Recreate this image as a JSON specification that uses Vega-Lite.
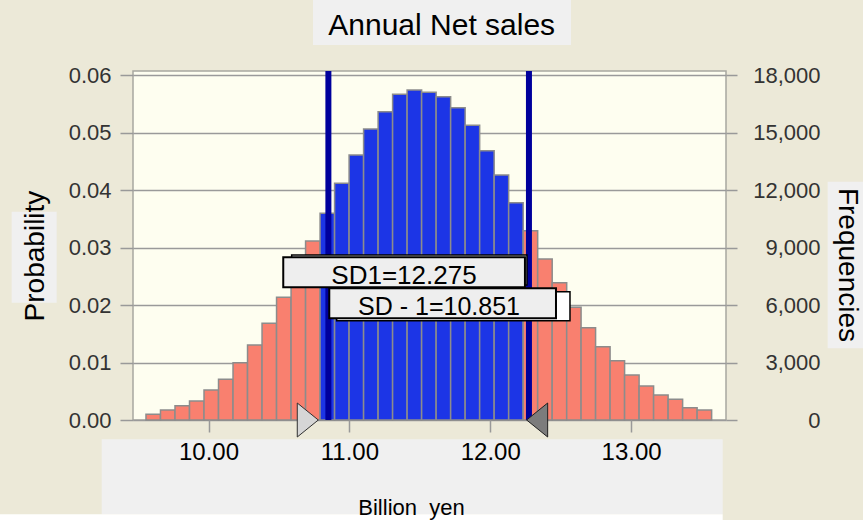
{
  "$schema": "https://vega.github.io/schema/vega-lite/v6.json",
  "width": 593,
  "height": 349,
  "autosize": "none",
  "padding": {"left": 133, "top": 71, "right": 137, "bottom": 100},
  "background": "#ECE9D8",
  "config": {
    "view": {"fill": "#FEFEF0", "stroke": "#A8A8A0", "strokeWidth": 1.5},
    "font": "Liberation Sans"
  },
  "datasets": {
    "bars": [
      {"bin_start": 9.556, "bin_end": 9.659, "prob": 0.00099, "range": "outside"},
      {"bin_start": 9.659, "bin_end": 9.762, "prob": 0.00174, "range": "outside"},
      {"bin_start": 9.762, "bin_end": 9.865, "prob": 0.00249, "range": "outside"},
      {"bin_start": 9.865, "bin_end": 9.968, "prob": 0.0033, "range": "outside"},
      {"bin_start": 9.968, "bin_end": 10.071, "prob": 0.00522, "range": "outside"},
      {"bin_start": 10.071, "bin_end": 10.174, "prob": 0.00708, "range": "outside"},
      {"bin_start": 10.174, "bin_end": 10.277, "prob": 0.00997, "range": "outside"},
      {"bin_start": 10.277, "bin_end": 10.38, "prob": 0.01304, "range": "outside"},
      {"bin_start": 10.38, "bin_end": 10.483, "prob": 0.01682, "range": "outside"},
      {"bin_start": 10.483, "bin_end": 10.586, "prob": 0.02134, "range": "outside"},
      {"bin_start": 10.586, "bin_end": 10.689, "prob": 0.0265, "range": "outside"},
      {"bin_start": 10.689, "bin_end": 10.792, "prob": 0.03113, "range": "outside"},
      {"bin_start": 10.792, "bin_end": 10.895, "prob": 0.03595, "range": "inside"},
      {"bin_start": 10.895, "bin_end": 10.998, "prob": 0.04117, "range": "inside"},
      {"bin_start": 10.998, "bin_end": 11.101, "prob": 0.04609, "range": "inside"},
      {"bin_start": 11.101, "bin_end": 11.204, "prob": 0.05061, "range": "inside"},
      {"bin_start": 11.204, "bin_end": 11.307, "prob": 0.05362, "range": "inside"},
      {"bin_start": 11.307, "bin_end": 11.41, "prob": 0.05664, "range": "inside"},
      {"bin_start": 11.41, "bin_end": 11.513, "prob": 0.05739, "range": "inside"},
      {"bin_start": 11.513, "bin_end": 11.616, "prob": 0.05699, "range": "inside"},
      {"bin_start": 11.616, "bin_end": 11.719, "prob": 0.05623, "range": "inside"},
      {"bin_start": 11.719, "bin_end": 11.822, "prob": 0.05431, "range": "inside"},
      {"bin_start": 11.822, "bin_end": 11.925, "prob": 0.05125, "range": "inside"},
      {"bin_start": 11.925, "bin_end": 12.028, "prob": 0.04683, "range": "inside"},
      {"bin_start": 12.028, "bin_end": 12.131, "prob": 0.04261, "range": "inside"},
      {"bin_start": 12.131, "bin_end": 12.234, "prob": 0.03779, "range": "inside"},
      {"bin_start": 12.234, "bin_end": 12.337, "prob": 0.03292, "range": "outside"},
      {"bin_start": 12.337, "bin_end": 12.44, "prob": 0.028, "range": "outside"},
      {"bin_start": 12.44, "bin_end": 12.543, "prob": 0.02388, "range": "outside"},
      {"bin_start": 12.543, "bin_end": 12.645, "prob": 0.0196, "range": "outside"},
      {"bin_start": 12.645, "bin_end": 12.748, "prob": 0.01605, "range": "outside"},
      {"bin_start": 12.748, "bin_end": 12.851, "prob": 0.01275, "range": "outside"},
      {"bin_start": 12.851, "bin_end": 12.954, "prob": 0.01031, "range": "outside"},
      {"bin_start": 12.954, "bin_end": 13.057, "prob": 0.00783, "range": "outside"},
      {"bin_start": 13.057, "bin_end": 13.16, "prob": 0.00591, "range": "outside"},
      {"bin_start": 13.16, "bin_end": 13.263, "prob": 0.00435, "range": "outside"},
      {"bin_start": 13.263, "bin_end": 13.366, "prob": 0.0036, "range": "outside"},
      {"bin_start": 13.366, "bin_end": 13.469, "prob": 0.00214, "range": "outside"},
      {"bin_start": 13.469, "bin_end": 13.572, "prob": 0.00174, "range": "outside"}
    ],
    "sd": [
      {"name": "SD-1", "value": 10.851, "label": "SD - 1=10.851"},
      {"name": "SD1", "value": 12.275, "label": "SD1=12.275"}
    ]
  },
  "layer": [
    {
      "data": {"values": [{"box": "title"}]},
      "mark": {"type": "rect", "color": "#F0F0F0"},
      "encoding": {
        "x": {"datum": 10.7418, "type": "quantitative", "axis": null, "scale": {"domain": [9.4638, 13.674], "nice": false, "zero": false}},
        "x2": {"datum": 12.5735},
        "y": {"datum": 0.07305, "type": "quantitative", "axis": null, "scale": {"domain": [0, 0.0607], "nice": false}},
        "y2": {"datum": 0.06522}
      }
    },
    {
      "data": {"values": [{"box": "probability"}]},
      "mark": {"type": "rect", "color": "#F0F0F0"},
      "encoding": {
        "x": {"datum": 8.6026, "type": "quantitative", "axis": null, "scale": {"domain": [9.4638, 13.674], "nice": false, "zero": false}},
        "x2": {"datum": 8.9221},
        "y": {"datum": 0.03623, "type": "quantitative", "axis": null, "scale": {"domain": [0, 0.0607], "nice": false}},
        "y2": {"datum": 0.0204}
      }
    },
    {
      "data": {"values": [{"box": "frequencies"}]},
      "mark": {"type": "rect", "color": "#F0F0F0"},
      "encoding": {
        "x": {"datum": 14.396, "type": "quantitative", "axis": null, "scale": {"domain": [9.4638, 13.674], "nice": false, "zero": false}},
        "x2": {"datum": 14.72},
        "y": {"datum": 0.04145, "type": "quantitative", "axis": null, "scale": {"domain": [0, 0.0607], "nice": false}},
        "y2": {"datum": 0.01247}
      }
    },
    {
      "data": {"values": [{"box": "xaxis"}]},
      "mark": {"type": "rect", "color": "#F0F0F0"},
      "encoding": {
        "x": {"datum": 9.2416, "type": "quantitative", "axis": null, "scale": {"domain": [9.4638, 13.674], "nice": false, "zero": false}},
        "x2": {"datum": 13.6505},
        "y": {"datum": -0.003357, "type": "quantitative", "axis": null, "scale": {"domain": [0, 0.0607], "nice": false}},
        "y2": {"datum": -0.016401}
      }
    },
    {
      "data": {"values": [{"box": "xaxis-bottom"}]},
      "mark": {"type": "rect", "color": "#FFFFFF"},
      "encoding": {
        "x": {"datum": 8.5, "type": "quantitative", "axis": null, "scale": {"domain": [9.4638, 13.674], "nice": false, "zero": false}},
        "x2": {"datum": 13.6505},
        "y": {"datum": -0.016401, "type": "quantitative", "axis": null, "scale": {"domain": [0, 0.0607], "nice": false}},
        "y2": {"datum": -0.0185}
      }
    },
    {
      "data": {"name": "bars"},
      "mark": {"type": "rect", "stroke": "#8C8C8C", "strokeWidth": 1.5},
      "encoding": {
        "x": {
          "field": "bin_start", "type": "quantitative",
          "scale": {"domain": [9.4638, 13.674], "nice": false, "zero": false},
          "axis": {
            "orient": "bottom",
            "values": [10, 11, 12, 13], "format": ".2f", "grid": false, "domain": false,
            "labelFont": "Liberation Sans", "labelFontSize": 24, "labelColor": "#000000",
            "labelBaseline": "alphabetic", "labelPadding": 27,
            "tickSize": 12, "tickColor": "#999999", "tickWidth": 1.5,
            "title": "Billion\u00a0\u00a0yen", "titleFont": "Liberation Sans", "titleFontSize": 22,
            "titleFontWeight": "normal", "titleColor": "#000000",
            "titleX": 278, "titleY": 94, "titleAlign": "center", "titleBaseline": "alphabetic",
            "zindex": 1,
            "encode": {"labels": {"update": {"dx": {"signal": "(datum.value - 13.25) * 4.4"}}}}
          }
        },
        "x2": {"field": "bin_end"},
        "y": {
          "field": "prob", "type": "quantitative",
          "scale": {"domain": [0, 0.0607], "nice": false},
          "axis": {
            "orient": "left", "values": [0, 0.01, 0.02, 0.03, 0.04, 0.05, 0.06], "format": ".2f",
            "grid": true, "gridColor": "#9A9A9A", "gridWidth": 1.5, "domain": false,
            "labelFont": "Liberation Sans", "labelFontSize": 22, "labelColor": "#333333",
            "labelPadding": 9, "tickSize": 13, "tickColor": "#999999", "tickWidth": 1.5,
            "title": null, "zindex": 0
          }
        },
        "y2": {"datum": 0},
        "color": {
          "field": "range", "type": "nominal",
          "scale": {"domain": ["inside", "outside"], "range": ["#1C35E6", "#F9806F"]},
          "legend": null
        }
      }
    },
    {
      "data": {"name": "bars"},
      "mark": {"type": "point", "opacity": 0},
      "encoding": {
        "x": {"field": "bin_start", "type": "quantitative", "axis": null, "scale": {"domain": [9.4638, 13.674], "nice": false, "zero": false}},
        "y": {
          "field": "prob", "type": "quantitative",
          "scale": {"domain": [0, 0.0607], "nice": false},
          "axis": {
            "orient": "right", "values": [0, 0.01, 0.02, 0.03, 0.04, 0.05, 0.06],
            "labelExpr": "format(datum.value * 300000, ',')",
            "grid": false, "domain": false, "labelAlign": "right",
            "labelFont": "Liberation Sans", "labelFontSize": 22, "labelColor": "#333333",
            "labelPadding": 83, "tickSize": 11, "tickColor": "#999999", "tickWidth": 1.5,
            "title": null, "zindex": 0
          }
        }
      }
    },
    {
      "data": {"name": "sd"},
      "mark": {"type": "rule", "color": "#00009C", "strokeWidth": 6},
      "encoding": {
        "x": {"field": "value", "type": "quantitative", "axis": null, "scale": {"domain": [9.4638, 13.674], "nice": false, "zero": false}}
      }
    },
    {
      "data": {"name": "sd"},
      "transform": [{"filter": "datum.name === 'SD1'"}],
      "mark": {"type": "rect", "fill": "#FFFFFF", "stroke": "#000000", "strokeWidth": 1.5, "xOffset": -237.3, "x2Offset": -2},
      "encoding": {
        "x": {"field": "value", "type": "quantitative", "axis": null, "scale": {"domain": [9.4638, 13.674], "nice": false, "zero": false}},
        "x2": {"field": "value"},
        "y": {"datum": 0.0287, "type": "quantitative", "axis": null, "scale": {"domain": [0, 0.0607], "nice": false}},
        "y2": {"datum": 0.02348}
      }
    },
    {
      "data": {"name": "sd"},
      "transform": [{"filter": "datum.name === 'SD1'"}],
      "mark": {"type": "rect", "fill": "#EEEEEE", "stroke": "#000000", "strokeWidth": 2, "xOffset": -245.7, "x2Offset": -4},
      "encoding": {
        "x": {"field": "value", "type": "quantitative", "axis": null, "scale": {"domain": [9.4638, 13.674], "nice": false, "zero": false}},
        "x2": {"field": "value"},
        "y": {"datum": 0.0283, "type": "quantitative", "axis": null, "scale": {"domain": [0, 0.0607], "nice": false}},
        "y2": {"datum": 0.02308}
      }
    },
    {
      "data": {"name": "sd"},
      "transform": [{"filter": "datum.name === 'SD1'"}],
      "mark": {"type": "text", "font": "Liberation Sans", "fontSize": 26, "color": "#000000", "align": "center", "baseline": "alphabetic", "dx": -125},
      "encoding": {
        "x": {"field": "value", "type": "quantitative", "axis": null, "scale": {"domain": [9.4638, 13.674], "nice": false, "zero": false}},
        "y": {"datum": 0.02365, "type": "quantitative", "axis": null, "scale": {"domain": [0, 0.0607], "nice": false}},
        "text": {"field": "label"}
      }
    },
    {
      "data": {"name": "sd"},
      "transform": [{"filter": "datum.name === 'SD-1'"}],
      "mark": {"type": "rect", "fill": "#FFFFFF", "stroke": "#000000", "strokeWidth": 1.5, "xOffset": 8.3, "x2Offset": 241.6},
      "encoding": {
        "x": {"field": "value", "type": "quantitative", "axis": null, "scale": {"domain": [9.4638, 13.674], "nice": false, "zero": false}},
        "x2": {"field": "value"},
        "y": {"datum": 0.02231, "type": "quantitative", "axis": null, "scale": {"domain": [0, 0.0607], "nice": false}},
        "y2": {"datum": 0.01727}
      }
    },
    {
      "data": {"name": "sd"},
      "transform": [{"filter": "datum.name === 'SD-1'"}],
      "mark": {"type": "rect", "fill": "#EEEEEE", "stroke": "#000000", "strokeWidth": 2, "xOffset": 0.9, "x2Offset": 227.6},
      "encoding": {
        "x": {"field": "value", "type": "quantitative", "axis": null, "scale": {"domain": [9.4638, 13.674], "nice": false, "zero": false}},
        "x2": {"field": "value"},
        "y": {"datum": 0.02291, "type": "quantitative", "axis": null, "scale": {"domain": [0, 0.0607], "nice": false}},
        "y2": {"datum": 0.01769}
      }
    },
    {
      "data": {"name": "sd"},
      "transform": [{"filter": "datum.name === 'SD-1'"}],
      "mark": {"type": "text", "font": "Liberation Sans", "fontSize": 25, "color": "#000000", "align": "center", "baseline": "alphabetic", "dx": 110.6},
      "encoding": {
        "x": {"field": "value", "type": "quantitative", "axis": null, "scale": {"domain": [9.4638, 13.674], "nice": false, "zero": false}},
        "y": {"datum": 0.01826, "type": "quantitative", "axis": null, "scale": {"domain": [0, 0.0607], "nice": false}},
        "text": {"field": "label"}
      }
    },
    {
      "data": {"name": "sd"},
      "transform": [{"filter": "datum.name === 'SD-1'"}],
      "mark": {"type": "point", "shape": "M -0.618 -1 L 0.618 0 L -0.618 1 Z", "size": 1156, "filled": true, "fill": "#D6D6D6", "stroke": "#303030", "strokeWidth": 1, "opacity": 1, "xOffset": -20.6},
      "encoding": {
        "x": {"field": "value", "type": "quantitative", "axis": null, "scale": {"domain": [9.4638, 13.674], "nice": false, "zero": false}},
        "y": {"datum": 0, "type": "quantitative", "axis": null, "scale": {"domain": [0, 0.0607], "nice": false}}
      }
    },
    {
      "data": {"name": "sd"},
      "transform": [{"filter": "datum.name === 'SD1'"}],
      "mark": {"type": "point", "shape": "M 0.618 -1 L -0.618 0 L 0.618 1 Z", "size": 1156, "filled": true, "fill": "#7C7C7C", "stroke": "#202020", "strokeWidth": 1, "opacity": 1, "xOffset": 8.2},
      "encoding": {
        "x": {"field": "value", "type": "quantitative", "axis": null, "scale": {"domain": [9.4638, 13.674], "nice": false, "zero": false}},
        "y": {"datum": 0, "type": "quantitative", "axis": null, "scale": {"domain": [0, 0.0607], "nice": false}}
      }
    },
    {
      "data": {"values": [{"t": "Annual Net sales"}]},
      "mark": {"type": "text", "font": "Liberation Sans", "fontSize": 30, "color": "#000000", "align": "center", "baseline": "alphabetic"},
      "encoding": {
        "x": {"datum": 11.6555, "type": "quantitative", "axis": null, "scale": {"domain": [9.4638, 13.674], "nice": false, "zero": false}},
        "y": {"datum": 0.06696, "type": "quantitative", "axis": null, "scale": {"domain": [0, 0.0607], "nice": false}},
        "text": {"field": "t"}
      }
    },
    {
      "data": {"values": [{"t": "Probability"}]},
      "mark": {"type": "text", "font": "Liberation Sans", "fontSize": 28, "color": "#000000", "align": "center", "baseline": "middle", "angle": 270},
      "encoding": {
        "x": {"datum": 8.7737, "type": "quantitative", "axis": null, "scale": {"domain": [9.4638, 13.674], "nice": false, "zero": false}},
        "y": {"datum": 0.02852, "type": "quantitative", "axis": null, "scale": {"domain": [0, 0.0607], "nice": false}},
        "text": {"field": "t"}
      }
    },
    {
      "data": {"values": [{"t": "Frequencies"}]},
      "mark": {"type": "text", "font": "Liberation Sans", "fontSize": 28, "color": "#000000", "align": "center", "baseline": "middle", "angle": 90},
      "encoding": {
        "x": {"datum": 14.533, "type": "quantitative", "axis": null, "scale": {"domain": [9.4638, 13.674], "nice": false, "zero": false}},
        "y": {"datum": 0.02696, "type": "quantitative", "axis": null, "scale": {"domain": [0, 0.0607], "nice": false}},
        "text": {"field": "t"}
      }
    }
  ],
  "resolve": {"scale": {"x": "shared", "y": "shared"}, "axis": {"x": "independent", "y": "independent"}}
}
